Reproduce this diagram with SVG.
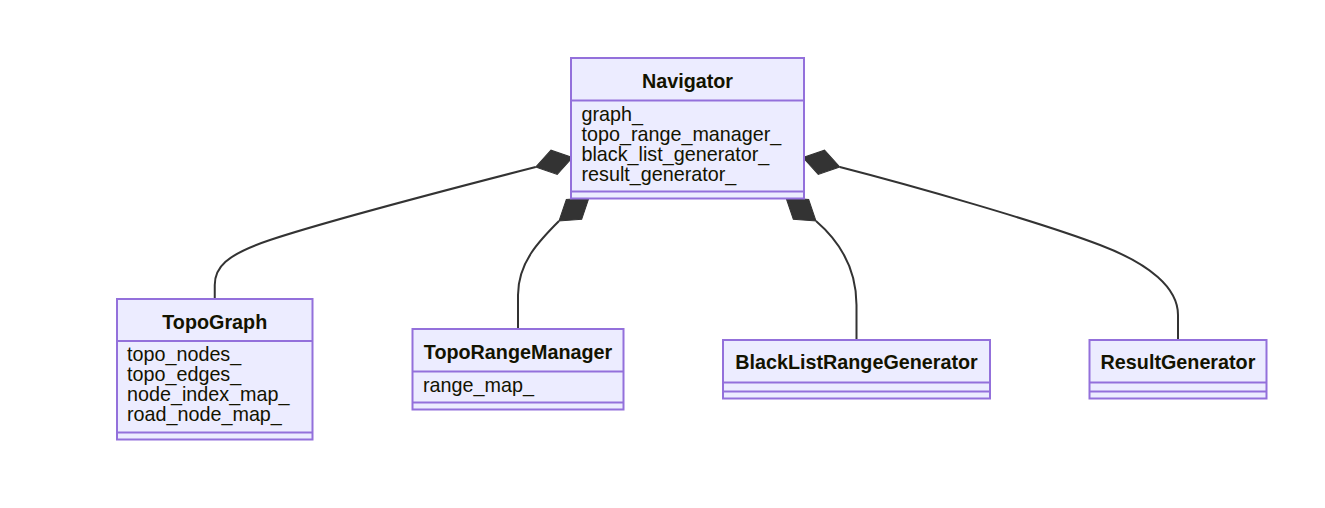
<svg xmlns="http://www.w3.org/2000/svg" xmlns:xlink="http://www.w3.org/1999/xlink" width="1325" height="508" viewBox="0 0 1325 508">
<style>
.box{fill:#ECECFF;stroke:#9370DB;stroke-width:2}
.div{stroke:#9370DB;stroke-width:2;fill:none}
.title{font-family:"Liberation Sans",Arial,sans-serif;font-size:19.75px;font-weight:bold;fill:#131300;text-anchor:middle}
.attr{font-family:"Liberation Sans",Arial,sans-serif;font-size:19.75px;fill:#131300}
.edge{fill:none;stroke:#333;stroke-width:2}
.dia{fill:#333;stroke:#333;stroke-width:1}
</style>
<defs>
<path id="dia" d="M0,0 L19,-12.5 L38,0 L19,12.5 Z"/>
</defs>
<rect width="1325" height="508" fill="#fff"/>
<g id="connectors">
<path class="edge" d="M535.7,167 C450,189 330,220 270,240 C225,255 214.75,268 214.75,285 L214.75,299"/>
<path class="edge" d="M559,221 C540,240 518,262 518,295 L518,329"/>
<path class="edge" d="M816,221 C838,240 856.5,268 856.5,305 L856.5,340"/>
<path class="edge" d="M839.8,167 C910,185 1040,222 1100,245 C1150,264 1178,288 1178,315 L1178,340"/>
<use xlink:href="#dia" class="dia" transform="translate(572.5,157.5) rotate(165.5)"/>
<use xlink:href="#dia" class="dia" transform="translate(589,197.7) rotate(142.1)"/>
<use xlink:href="#dia" class="dia" transform="translate(786,197.7) rotate(37.9)"/>
<use xlink:href="#dia" class="dia" transform="translate(803,157.5) rotate(14.5)"/>
</g>
<g id="Navigator">
<rect class="box" x="571" y="58" width="233" height="140.5"/>
<line class="div" x1="571" y1="100.5" x2="804" y2="100.5"/>
<line class="div" x1="571" y1="191.5" x2="804" y2="191.5"/>
<text class="title" x="687.5" y="87.5">Navigator</text>
<text class="attr" x="581.5" y="120.5">graph_</text>
<text class="attr" x="581.5" y="140.5">topo_range_manager_</text>
<text class="attr" x="581.5" y="160.5">black_list_generator_</text>
<text class="attr" x="581.5" y="180.5">result_generator_</text>
</g>
<g id="TopoGraph">
<rect class="box" x="117" y="299" width="195.5" height="140.5"/>
<line class="div" x1="117" y1="341" x2="312.5" y2="341"/>
<line class="div" x1="117" y1="432.5" x2="312.5" y2="432.5"/>
<text class="title" x="214.75" y="328.5">TopoGraph</text>
<text class="attr" x="127" y="361">topo_nodes_</text>
<text class="attr" x="127" y="381">topo_edges_</text>
<text class="attr" x="127" y="401">node_index_map_</text>
<text class="attr" x="127" y="421">road_node_map_</text>
</g>
<g id="TopoRangeManager">
<rect class="box" x="412.5" y="329" width="211" height="80.5"/>
<line class="div" x1="412.5" y1="371.5" x2="623.5" y2="371.5"/>
<line class="div" x1="412.5" y1="402.5" x2="623.5" y2="402.5"/>
<text class="title" x="518" y="359">TopoRangeManager</text>
<text class="attr" x="423" y="391.5">range_map_</text>
</g>
<g id="BlackListRangeGenerator">
<rect class="box" x="723" y="340" width="267" height="58.5"/>
<line class="div" x1="723" y1="382.5" x2="990" y2="382.5"/>
<line class="div" x1="723" y1="391.5" x2="990" y2="391.5"/>
<text class="title" x="856.5" y="369">BlackListRangeGenerator</text>
</g>
<g id="ResultGenerator">
<rect class="box" x="1089.5" y="340" width="177" height="58.5"/>
<line class="div" x1="1089.5" y1="382.5" x2="1266.5" y2="382.5"/>
<line class="div" x1="1089.5" y1="391.5" x2="1266.5" y2="391.5"/>
<text class="title" x="1178" y="369">ResultGenerator</text>
</g>
</svg>
